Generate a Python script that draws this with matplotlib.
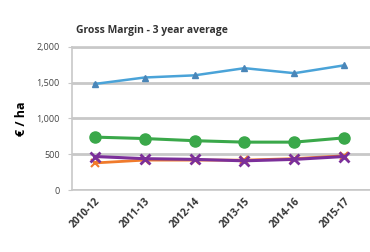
import matplotlib
matplotlib.use("Agg")
import matplotlib.pyplot as plt

periods = ["2010-12", "2011-13", "2012-14", "2013-15", "2014-16", "2015-17"]
blue = [1480, 1570, 1600, 1700, 1630, 1740]
green = [740, 720, 690, 670, 670, 730]
purple = [470, 440, 430, 410, 430, 470]
orange = [380, 420, 420, 420, 440, 480]
yticks = [0, 500, 1000, 1500, 2000]

plt.rcParams['font.family'] = ['Open Sans', 'DejaVu Sans']
fig = plt.figure(figsize=(3.70, 2.52), dpi=100)
ax = fig.add_axes([0.195, 0.245, 0.81, 0.57])
x = range(len(periods))
ax.plot(x, orange, color='#f07b2c', lw=2.0, marker='x', ms=6, mew=1.5, zorder=3)
ax.plot(x, purple, color='#7b2f9a', lw=2.2, marker='x', ms=7, mew=2, zorder=4)
ax.plot(x, green, color='#3aa84a', lw=2.2, marker='o', ms=8, zorder=3)
ax.plot(x, blue, color='#4aa3d8', lw=1.8, marker='^', ms=5, mfc='#4a86b8', mec='#4a86b8', zorder=3)

ax.set_ylim(0, 2000)
ax.set_xlim(-0.45, 5.55)
ax.set_yticks(yticks)
ax.set_yticklabels([f"{v:,}" for v in yticks], fontsize=6.5, color='#444444')
ax.set_xticks(list(x))
ax.set_xticklabels(periods, rotation=45, ha='right', rotation_mode='anchor', fontsize=7.2, fontweight='bold', color='#333333')
ax.tick_params(axis='y', length=3, color='#c8c8c8', pad=6)
ax.tick_params(axis='x', length=0, pad=4)
ax.grid(axis='y', color='#c8c8c8', lw=2)
ax.set_axisbelow(True)
for s in ax.spines.values():
    s.set_color('#c8c8c8')
    s.set_linewidth(1.2)
ax.set_ylabel("€ / ha", fontsize=9, fontweight='bold', labelpad=6)
fig.text(0.41, 0.87, "Gross Margin - 3 year average", fontsize=7.5, fontweight='bold', ha='center', color='#333333')
fig.savefig("out.png", dpi=100)
